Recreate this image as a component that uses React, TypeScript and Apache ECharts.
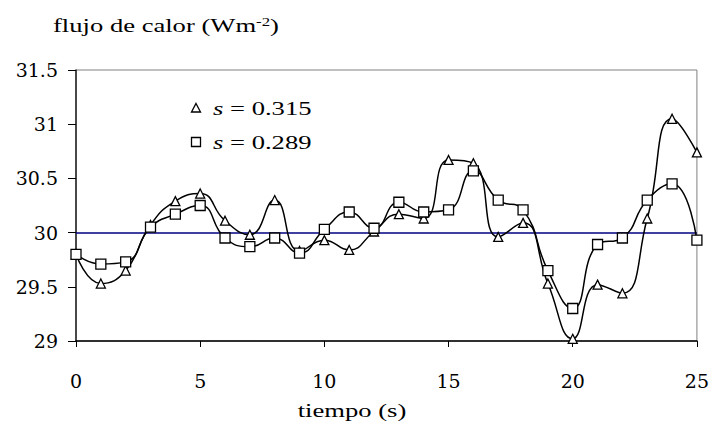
import React, { useEffect, useRef } from "react";
import * as echarts from "echarts";

const tiempo = [0, 1, 2, 3, 4, 5, 6, 7, 8, 9, 10, 11, 12, 13, 14, 15, 16, 17, 18, 19, 20, 21, 22, 23, 24, 25];
const serieA = [29.8, 29.53, 29.65, 30.07, 30.29, 30.36, 30.11, 29.98, 30.3, 29.83, 29.93, 29.84, 30.01, 30.17, 30.13, 30.67, 30.64, 29.96, 30.09, 29.53, 29.02, 29.52, 29.44, 30.13, 31.05, 30.74];
const serieB = [29.8, 29.71, 29.73, 30.05, 30.17, 30.25, 29.95, 29.87, 29.95, 29.81, 30.03, 30.19, 30.04, 30.28, 30.19, 30.21, 30.57, 30.3, 30.21, 29.65, 29.3, 29.89, 29.95, 30.3, 30.45, 29.93];
const valorA = "0.315";
const valorB = "0.289";
const nombreA = "s = " + valorA;
const nombreB = "s = " + valorB;
const referencia = 30;
const yTicks = { min: 29, max: 31.5, interval: 0.5 };
const xTicks = { min: 0, max: 25, interval: 5 };
const tituloY = "flujo de calor (Wm";
const tituloX = "tiempo (s)";

const SERIF = "Liberation Serif";
const LABEL_FONT = "DejaVu Serif";
const STRETCH = 1.4;

export default function App() {
  const ref = useRef<HTMLDivElement>(null);
  useEffect(() => {
    if (!ref.current) return;
    const chart = echarts.init(ref.current, undefined, { renderer: "svg" });
    const pts = (ys: number[]) => tiempo.map((t, i) => [t, ys[i]]);
    const txt = (x: number, y: number, text: string, align: string, rich?: any) => ({
      type: "text",
      x,
      y,
      scaleX: STRETCH,
      silent: true,
      style: {
        text,
        fill: "#000",
        fontFamily: SERIF,
        fontSize: 19,
        fontWeight: "normal",
        lineWidth: 0,
        align,
        verticalAlign: "middle",
        textAlign: align,
        textVerticalAlign: "middle",
        rich,
      },
    });
    const richItalic = {
      i: { fontFamily: SERIF, fontSize: 19, fontStyle: "italic", fontWeight: "normal", fill: "#000", color: "#000" },
    };
    chart.setOption({
      animation: false,
      backgroundColor: "#ffffff",
      textStyle: { fontFamily: SERIF, color: "#000", fontWeight: "normal" },
      graphic: [
        txt(53, 25, tituloY + "{sup|-2}{b|)}", "left", {
          sup: { fontFamily: SERIF, fontSize: 12, fontWeight: "normal", verticalAlign: "top", fill: "#000", color: "#000" },
          b: { fontFamily: SERIF, fontSize: 19, fontWeight: "normal", fill: "#000", color: "#000" },
        }),
        {
          type: "polygon",
          silent: true,
          shape: { points: [[196, 103.5], [200.5, 112], [191.5, 112]] },
          style: { fill: "#fff", stroke: "#000", lineWidth: 1.3 },
        },
        txt(213, 108, "{i|s} = " + valorA, "left", richItalic),
        {
          type: "rect",
          silent: true,
          shape: { x: 191.5, y: 137.5, width: 9, height: 9 },
          style: { fill: "#fff", stroke: "#000", lineWidth: 1.3 },
        },
        txt(213, 142, "{i|s} = " + valorB, "left", richItalic),
        txt(352, 410, tituloX, "center"),
      ],
      grid: {
        left: 76,
        right: 14,
        top: 70,
        bottom: 91,
        show: true,
        borderColor: "#808080",
        borderWidth: 1,
        backgroundColor: "transparent",
      },
      xAxis: {
        type: "value",
        min: xTicks.min,
        max: xTicks.max,
        interval: xTicks.interval,
        axisLine: { lineStyle: { color: "#000", width: 1.5 } },
        axisTick: { show: true, length: 6, lineStyle: { color: "#000" } },
        axisLabel: { fontFamily: LABEL_FONT, fontSize: 19, color: "#000", margin: 30 },
        splitLine: { show: false },
      },
      yAxis: {
        type: "value",
        min: yTicks.min,
        max: yTicks.max,
        interval: yTicks.interval,
        axisLine: { show: true, lineStyle: { color: "#222", width: 1.5 } },
        axisTick: { show: true, length: 8, lineStyle: { color: "#000" } },
        axisLabel: { fontFamily: LABEL_FONT, fontSize: 19, color: "#000", margin: 18 },
        splitLine: { show: false },
      },
      series: [
        {
          name: nombreA,
          type: "line",
          data: pts(serieA),
          smooth: 0.5,
          symbol: "triangle",
          symbolSize: 9,
          lineStyle: { color: "#000", width: 1.5 },
          itemStyle: { color: "#fff", borderColor: "#000", borderWidth: 1.3 },
          z: 3,
          markLine: {
            silent: true,
            symbol: "none",
            label: { show: false },
            lineStyle: { color: "#000080", width: 1.5, type: "solid" },
            data: [{ yAxis: referencia }],
            z: 2,
          },
        },
        {
          name: nombreB,
          type: "line",
          data: pts(serieB),
          smooth: 0.5,
          symbol: "rect",
          symbolSize: 10,
          lineStyle: { color: "#000", width: 1.5 },
          itemStyle: { color: "#fff", borderColor: "#000", borderWidth: 1.3 },
          z: 4,
        },
      ],
    });
    return () => chart.dispose();
  }, []);
  return <div ref={ref} style={{ position: "absolute", left: 0, top: 0, width: 712, height: 432 }} />;
}
